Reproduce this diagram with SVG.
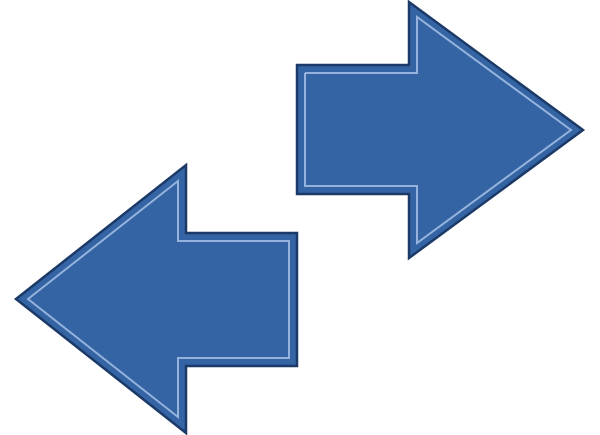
<svg xmlns="http://www.w3.org/2000/svg" width="600" height="435" viewBox="0 0 600 435">
<style>
.outer{fill:#3464a4;stroke:#1c3a68;stroke-width:2.5;stroke-linejoin:miter}
.inner{fill:none;stroke:#96b3dd;stroke-width:2}
</style>
<rect width="600" height="435" fill="#ffffff"/>
<g id="arrow-right">
<polygon class="outer" points="297,65 409,65 409,2 583,130 409,258 409,194 297,194"/>
<polyline class="inner" points="305,73 417,73 417,17 571,130 417,243 417,186 305,186 305,73"/>
</g>
<g id="arrow-left">
<polygon class="outer" points="16,299 186,165 186,233 297,233 297,366 186,366 186,433"/>
<polygon class="inner" points="28,299 178,181 178,241 289,241 289,358 178,358 178,417"/>
</g>
<g id="connectors"/>
</svg>
